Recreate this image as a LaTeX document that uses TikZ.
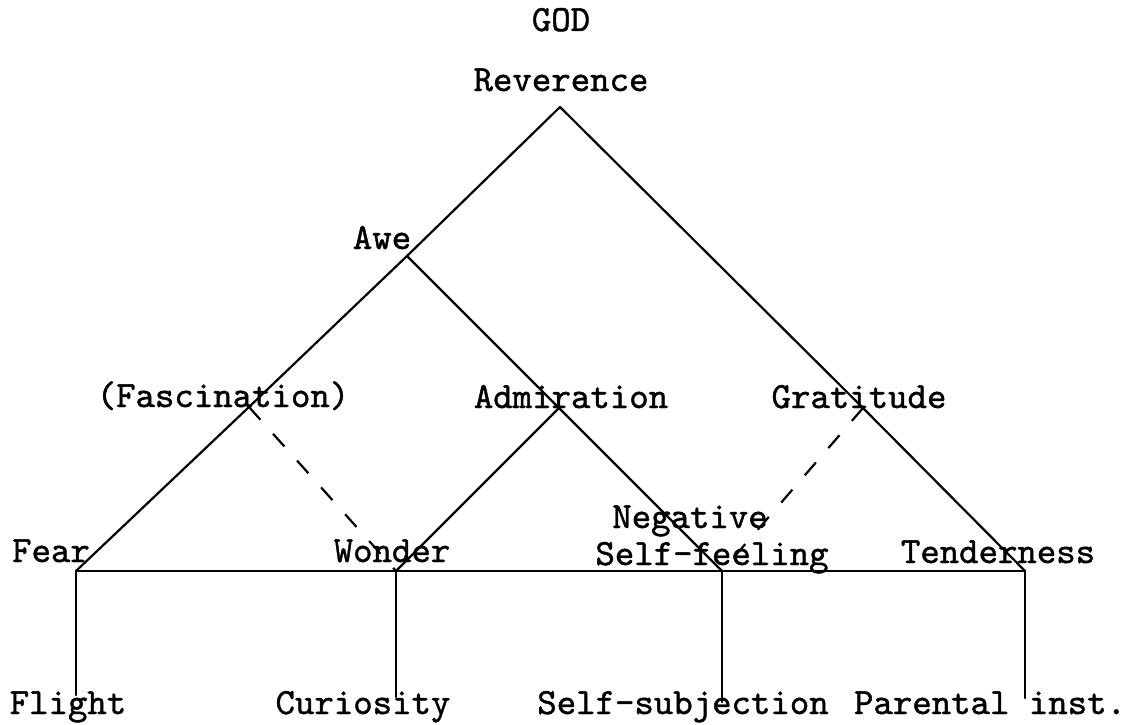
\documentclass[tikz,border=0pt]{standalone}
\usepackage{fontspec}
\newfontfamily\typew{lmmono10-regular.otf}[FakeBold=1.2]
\begin{document}
\begin{tikzpicture}[x=1pt,y=-1pt,
  lbl/.style={anchor=base,inner sep=0pt,font=\fontsize{37}{40}\selectfont\typew},
  edge/.style={line width=2.2pt,line cap=round},
  thinedge/.style={line width=1.6pt},
  dashedge/.style={line width=2.2pt,dash pattern=on 17pt off 19pt}]
\useasboundingbox (0,0) rectangle (1137,725);
% junction points
\coordinate (rev) at (560,107);
\coordinate (awe) at (407,256);
\coordinate (fas) at (249,407);
\coordinate (adm) at (558,409);
\coordinate (gra) at (863,408);
\coordinate (fear) at (76,571);
\coordinate (won) at (396,571);
\coordinate (neg) at (722,571);
\coordinate (ten) at (1025,571);
\coordinate (flight) at (76,695);
\coordinate (cur) at (396,697);
\coordinate (subj) at (722,702);
\coordinate (par) at (1025,698);
% labels
\node[lbl] (tgod) at (561,31) {GOD};
\node[lbl] (trev) at (561,91) {Reverence};
\node[lbl] (tawe) at (382,249) {Awe};
\node[lbl] (tfas) at (223,407) {(Fascination)};
\node[lbl] (tadm) at (571,408) {Admiration};
\node[lbl] (tgra) at (859,408) {Gratitude};
\node[lbl] (tfear) at (51,562) {Fear};
\node[lbl] (twon) at (392,562) {Wonder};
\node[lbl] (tneg) at (690,528) {Negative};
\node[lbl] (tself) at (712,565) {Self-feeling};
\node[lbl] (tten) at (998,563) {Tenderness};
\node[lbl] (tfl) at (68,714) {Flight};
\node[lbl] (tcur) at (363,714) {Curiosity};
\node[lbl] (tsub) at (683,714) {Self-subjection};
\node[lbl] (tpar) at (990,714) {Parental inst.};
% connectors
\draw[edge] (rev) -- (awe) -- (fas) -- (fear);
\draw[edge] (rev) -- (gra) -- (ten);
\draw[edge] (awe) -- (neg);
\draw[edge] (adm) -- (won);
\draw[dashedge] (fas) -- (won);
\draw[dashedge] (gra) -- (neg);
\draw[thinedge] (fear) -- (ten);
\draw[edge] (fear) -- (flight);
\draw[edge] (won) -- (cur);
\draw[edge] (neg) -- (subj);
\draw[edge] (ten) -- (par);
\end{tikzpicture}
\end{document}
